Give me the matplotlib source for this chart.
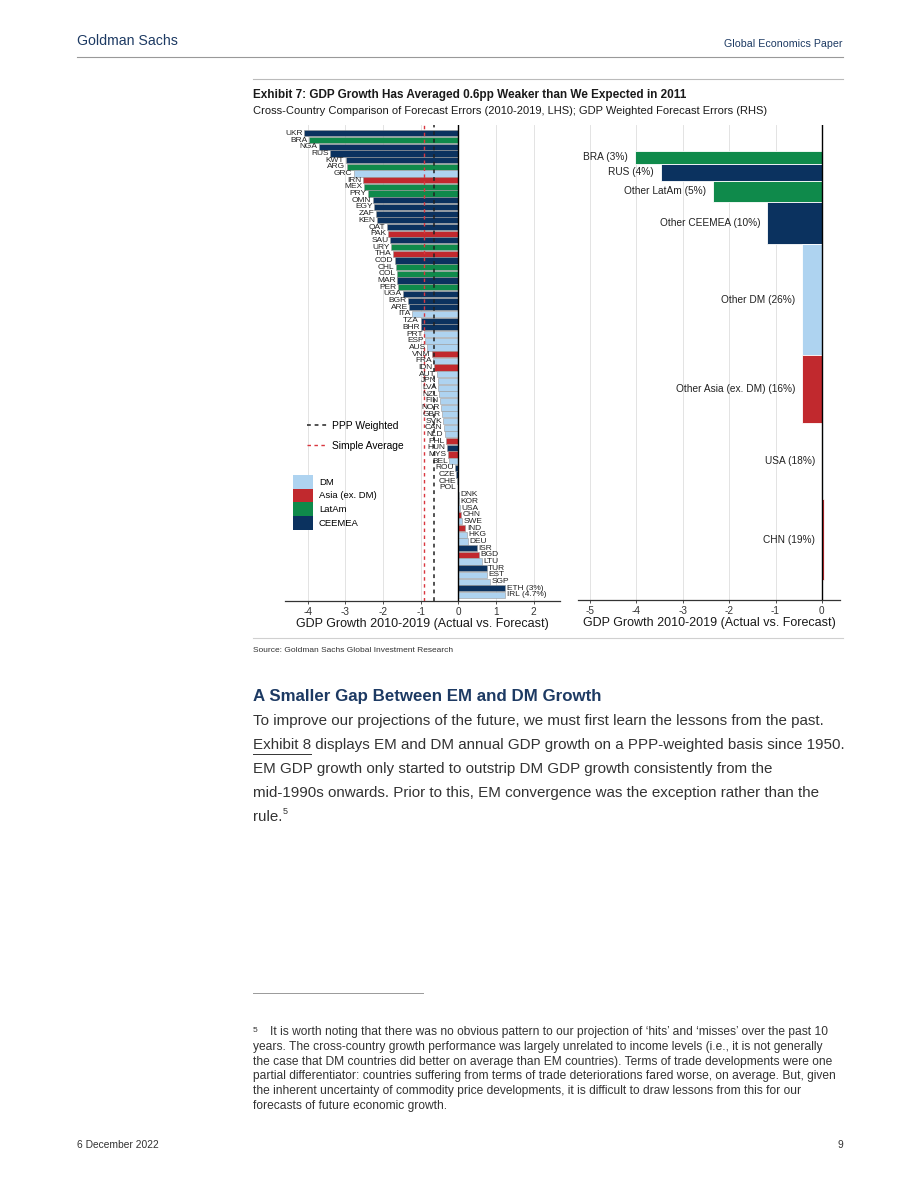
import numpy as np
import matplotlib
matplotlib.use("Agg")
import matplotlib.pyplot as plt
from matplotlib.patches import Patch
from matplotlib.lines import Line2D

W, H = 920, 1191
NARROW = ['Liberation Sans Narrow', 'Liberation Sans', 'DejaVu Sans']
ARIAL = ['Liberation Sans', 'DejaVu Sans']
plt.rcParams['font.family'] = ARIAL

NAVY_TXT = '#1d3a63'
COLORS = {'DM': '#aed3f0', 'Asia': '#c1292e', 'LatAm': '#0f8a4b', 'CEEMEA': '#0b325f'}

# --- LHS: forecast errors by country (actual minus forecast, pp) ---
countries = ['UKR', 'BRA', 'NGA', 'RUS', 'KWT', 'ARG', 'GRC', 'IRN', 'MEX', 'PRY',
             'OMN', 'EGY', 'ZAF', 'KEN', 'QAT', 'PAK', 'SAU', 'URY', 'THA', 'COD',
             'CHL', 'COL', 'MAR', 'PER', 'UGA', 'BGR', 'ARE', 'ITA', 'TZA', 'BHR',
             'PRT', 'ESP', 'AUS', 'VNM', 'FRA', 'IDN', 'AUT', 'JPN', 'LVA', 'NZL',
             'FIN', 'NOR', 'GBR', 'SVK', 'CAN', 'NLD', 'PHL', 'HUN', 'MYS', 'BEL',
             'ROU', 'CZE', 'CHE', 'POL', 'DNK', 'KOR', 'USA', 'CHN', 'SWE', 'IND',
             'HKG', 'DEU', 'ISR', 'BGD', 'LTU', 'TUR', 'EST', 'SGP', 'ETH', 'IRL']
regions = ['CEEMEA', 'LatAm', 'CEEMEA', 'CEEMEA', 'CEEMEA', 'LatAm', 'DM', 'Asia', 'LatAm', 'LatAm',
           'CEEMEA', 'CEEMEA', 'CEEMEA', 'CEEMEA', 'CEEMEA', 'Asia', 'CEEMEA', 'LatAm', 'Asia', 'CEEMEA',
           'LatAm', 'LatAm', 'CEEMEA', 'LatAm', 'CEEMEA', 'CEEMEA', 'CEEMEA', 'DM', 'CEEMEA', 'CEEMEA',
           'DM', 'DM', 'DM', 'Asia', 'DM', 'Asia', 'DM', 'DM', 'DM', 'DM',
           'DM', 'DM', 'DM', 'DM', 'DM', 'DM', 'Asia', 'CEEMEA', 'Asia', 'DM',
           'CEEMEA', 'CEEMEA', 'DM', 'CEEMEA', 'DM', 'DM', 'DM', 'Asia', 'DM', 'Asia',
           'DM', 'DM', 'CEEMEA', 'Asia', 'DM', 'CEEMEA', 'DM', 'DM', 'CEEMEA', 'DM']
errors = [-4.10, -3.97, -3.70, -3.41, -2.99, -2.96, -2.77, -2.53, -2.50, -2.40,
          -2.27, -2.24, -2.19, -2.16, -1.90, -1.87, -1.80, -1.79, -1.73, -1.68,
          -1.65, -1.63, -1.62, -1.60, -1.46, -1.34, -1.30, -1.23, -1.00, -0.98,
          -0.91, -0.88, -0.83, -0.70, -0.66, -0.64, -0.57, -0.55, -0.54, -0.50,
          -0.48, -0.45, -0.43, -0.40, -0.38, -0.36, -0.32, -0.30, -0.28, -0.24,
          -0.08, -0.05, -0.03, -0.02, 0.01, 0.02, 0.04, 0.07, 0.10, 0.19,
          0.24, 0.26, 0.49, 0.56, 0.64, 0.75, 0.76, 0.85, 3.0, 4.7]
bar_cap = 1.25          # ETH and IRL bars are truncated in the original
ppp_weighted = -0.65
simple_average = -0.90

# --- RHS: GDP weighted forecast errors ---
groups = ['BRA', 'RUS', 'Other LatAm', 'Other CEEMEA', 'Other DM',
          'Other Asia (ex. DM)', 'USA', 'CHN']
group_regions = ['LatAm', 'CEEMEA', 'LatAm', 'CEEMEA', 'DM', 'Asia', 'DM', 'Asia']
weights = [3, 4, 5, 10, 26, 16, 18, 19]
group_errors = [-4.03, -3.47, -2.34, -1.18, -0.43, -0.42, 0.02, 0.05]

xlabel = 'GDP Growth 2010-2019 (Actual vs. Forecast)'


def px(x0, y0, x1, y1):
    return [x0 / W, 1 - y1 / H, (x1 - x0) / W, (y1 - y0) / H]


def ftext(x, y, s, **kw):
    return fig.text(x / W, 1 - y / H, s, va='center', **kw)


def hline(x0, x1, y, color='#c8c8c8', lw=0.8):
    fig.add_artist(Line2D([x0 / W, x1 / W], [1 - y / H, 1 - y / H], color=color, lw=lw))


fig = plt.figure(figsize=(W / 100, H / 100), dpi=100)

# page header
ftext(77, 41, 'Goldman Sachs', family=NARROW, fontsize=10.2, color=NAVY_TXT)
ftext(843, 44, 'Global Economics Paper', family=NARROW, fontsize=7.7, color=NAVY_TXT, ha='right')
hline(77, 843, 57, color='#999999')
hline(253, 843, 79, color='#bbbbbb')

ftext(253, 95, 'Exhibit 7: GDP Growth Has Averaged 0.6pp Weaker than We Expected in 2011',
      family=NARROW, fontsize=8.5, fontweight='bold', color='#1a1a1a')
ftext(253, 111, 'Cross-Country Comparison of Forecast Errors (2010-2019, LHS); GDP Weighted Forecast Errors (RHS)',
      family=NARROW, fontsize=8.0, color='#1a1a1a')

# ---------- left panel ----------
ax1 = fig.add_axes(px(285, 125, 560, 601))
y = np.arange(len(countries))
vals = np.array(errors)
shown = np.minimum(vals, bar_cap)
cols = [COLORS[r] for r in regions]
ax1.barh(y, shown, height=0.92, color=cols, edgecolor='#9a9a9a', linewidth=0.4, zorder=2)
ax1.axvline(0, color='black', lw=1.0, zorder=3)
ax1.axvline(ppp_weighted, color='#222222', lw=1.1, ls=(0, (2.5, 2.5)), zorder=4)
ax1.axvline(simple_average, color='#d9363e', lw=1.0, ls=(0, (2.5, 2.5)), zorder=4)

for yi, name, v, s in zip(y, countries, vals, shown):
    label = name if v <= bar_cap else f'{name} ({v:g}%)'
    off, ha = (-1.0, 'right') if v < 0 else (1.0, 'left')
    ax1.annotate(label, (s, yi), xytext=(off, 0), textcoords='offset points',
                 ha=ha, va='center', fontsize=6.0, color='#222222', zorder=5)

ax1.set_xlim(-4.6, 2.7)
ax1.set_ylim(len(countries) - 0.1, -1.25)
ax1.set_xticks(np.arange(-4, 3))
ax1.set_yticks([])

line_handles = [Line2D([], [], color='#222222', lw=1.1, ls=(0, (2.5, 2.5))),
                Line2D([], [], color='#d9363e', lw=1.0, ls=(0, (2.5, 2.5)))]
leg1 = ax1.legend(line_handles, ['PPP Weighted', 'Simple Average'], loc='upper left',
                  bbox_to_anchor=(0.08, 0.378), frameon=False, fontsize=7.4,
                  handlelength=1.95, handletextpad=0.5, labelspacing=0.95,
                  borderpad=0, borderaxespad=0)
ax1.add_artist(leg1)
patch_handles = [Patch(facecolor=COLORS[k], edgecolor='none') for k in ['DM', 'Asia', 'LatAm', 'CEEMEA']]
ax1.legend(patch_handles, ['DM', 'Asia (ex. DM)', 'LatAm', 'CEEMEA'], loc='upper left',
           bbox_to_anchor=(0.029, 0.265), frameon=False, fontsize=6.8,
           handlelength=2.1, handleheight=1.85, handletextpad=0.65, labelspacing=0,
           borderpad=0, borderaxespad=0)

# ---------- right panel ----------
ax2 = fig.add_axes(px(578, 125, 840, 600))
w = np.array(weights, dtype=float)
tops = np.cumsum(w) - w
centers = tops + w / 2
gvals = np.array(group_errors)
ax2.barh(centers, gvals, height=w, color=[COLORS[r] for r in group_regions],
         edgecolor='white', linewidth=0.6, zorder=2)
ax2.axvline(0, color='black', lw=1.0, zorder=3)
for c, g, wt, v in zip(centers, groups, weights, gvals):
    ax2.annotate(f'{g} ({wt}%)', (min(v, 0), c), xytext=(-5, 0), textcoords='offset points',
                 ha='right', va='center', fontsize=7.3, color='#222222', zorder=5)
ax2.set_xlim(-5.26, 0.39)
ax2.set_ylim(w.sum() + 4.7, -6.1)
ax2.set_xticks(np.arange(-5, 1))
ax2.set_yticks([])

for ax in (ax1, ax2):
    for side in ('left', 'right', 'top'):
        ax.spines[side].set_visible(False)
    ax.spines['bottom'].set_color('#333333')
    ax.spines['bottom'].set_linewidth(0.9)
    ax.grid(axis='x', color='#e3e3e3', lw=0.7, zorder=0)
    ax.set_axisbelow(True)
    ax.tick_params(axis='x', length=2.5, width=0.6, pad=1.5, labelsize=7.2, colors='#333333')
    ax.set_xticklabels([str(t) for t in ax.get_xticks().astype(int)])
    ax.set_xlabel(xlabel, fontsize=9.0, color='#1a1a1a', labelpad=1.0)

hline(253, 843, 638, color='#d0d0d0')
ftext(253, 651, 'Source: Goldman Sachs Global Investment Research', family=NARROW, fontsize=6.0, color='#333333')

# ---------- body text ----------
ftext(253, 697, 'A Smaller Gap Between EM and DM Growth', family=NARROW, fontsize=12.2,
      fontweight='bold', color=NAVY_TXT)
body_kw = dict(fontsize=10.9, color='#333333')
ftext(253, 721, 'To improve our projections of the future, we must first learn the lessons from the past.', **body_kw)
ex8 = ftext(253, 745, 'Exhibit 8', **body_kw)
fig.canvas.draw()
bb = ex8.get_window_extent(fig.canvas.get_renderer())
ftext(bb.x1, 745, ' displays EM and DM annual GDP growth on a PPP-weighted basis since 1950.', **body_kw)
hline(bb.x0, bb.x1, 754, color='#333333', lw=0.7)
ftext(253, 769, 'EM GDP growth only started to outstrip DM GDP growth consistently from the', **body_kw)
ftext(253, 793, 'mid-1990s onwards. Prior to this, EM convergence was the exception rather than the', **body_kw)
r = ftext(253, 817, 'rule.', **body_kw)
fig.canvas.draw()
bb = r.get_window_extent(fig.canvas.get_renderer())
ftext(bb.x1, 812, '5', fontsize=6.5, color='#333333')

# ---------- footnote ----------
hline(253, 423, 993, color='#999999', lw=0.7)
foot = ["It is worth noting that there was no obvious pattern to our projection of \u2018hits\u2019 and \u2018misses\u2019 over the past 10",
        "years. The cross-country growth performance was largely unrelated to income levels (i.e., it is not generally",
        "the case that DM countries did better on average than EM countries). Terms of trade developments were one",
        "partial differentiator: countries suffering from terms of trade deteriorations fared worse, on average. But, given",
        "the inherent uncertainty of commodity price developments, it is difficult to draw lessons from this for our",
        "forecasts of future economic growth."]
ftext(253, 1030, '5', fontsize=6, color='#333333')
for i, line in enumerate(foot):
    x0 = 270 if i == 0 else 253
    ftext(x0, 1032 + i * 14.8, line, fontsize=8.65, color='#333333')

ftext(77, 1145, '6 December 2022', family=NARROW, fontsize=7.4, color='#333333')
ftext(843, 1145, '9', family=NARROW, fontsize=7.4, color='#333333', ha='right')

fig.savefig('out.png', dpi=100)
